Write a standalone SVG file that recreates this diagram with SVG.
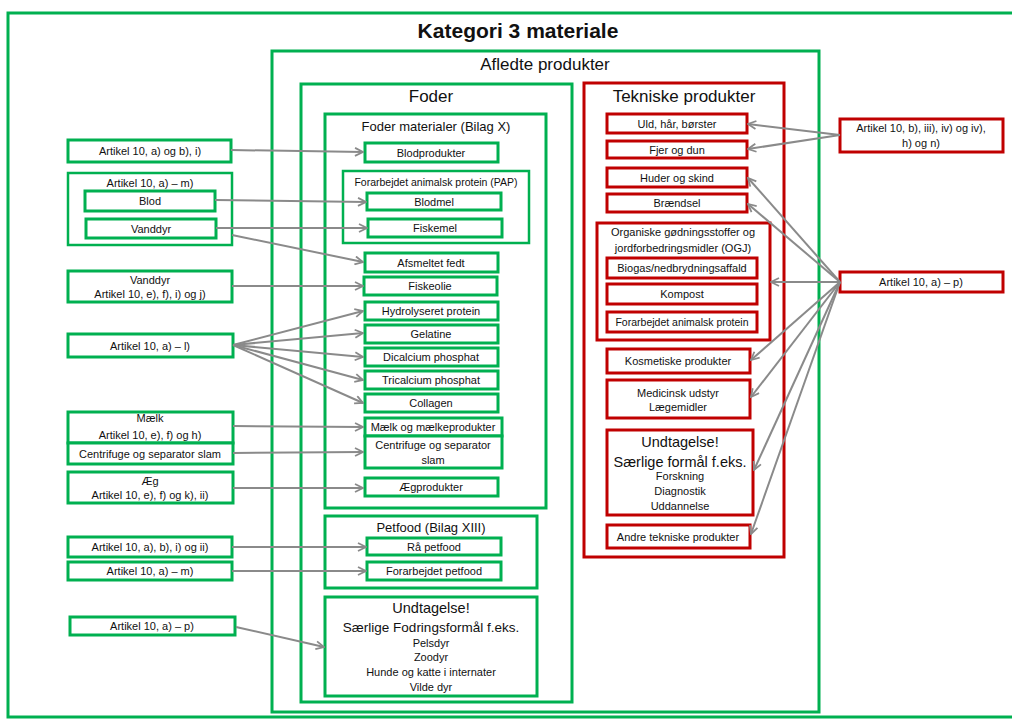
<svg xmlns="http://www.w3.org/2000/svg" width="1012" height="720" viewBox="0 0 1012 720">
<style>
.g{fill:#fff;stroke:#00b050;stroke-width:3}
.r{fill:#fff;stroke:#c00000;stroke-width:3}
text{font-family:"Liberation Sans",Arial,sans-serif;fill:#111;text-anchor:middle}
.s{font-size:11px}
.m{font-size:13px}
.h{font-size:17px}
.u{font-size:14.5px}
.c{fill:none;stroke:#8a8a8a;stroke-width:2;marker-end:url(#ah)}
</style>
<defs>
<marker id="ah" viewBox="0 0 10 10" refX="9" refY="5" markerWidth="10" markerHeight="10" markerUnits="userSpaceOnUse" orient="auto">
<path d="M1,1 L9,5 L1,9" fill="none" stroke="#8a8a8a" stroke-width="1.8"/>
</marker>
</defs>
<rect x="0" y="0" width="1012" height="720" fill="#fff"/>
<g id="kategori">
<rect class="g" x="8" y="13" width="1012" height="704"/>
<text x="518" y="38" style="font-size:21px;font-weight:bold">Kategori 3 materiale</text>
</g>
<g id="afledte">
<rect class="g" x="272" y="51" width="547" height="661"/>
<text class="h" x="545" y="70">Afledte produkter</text>
</g>
<g id="foder">
<rect class="g" x="301" y="84" width="271" height="618"/>
<text class="h" x="431" y="102">Foder</text>
</g>
<g id="fodermaterialer">
<rect class="g" x="325" y="114" width="221" height="394"/>
<text class="m" x="436" y="131">Foder materialer (Bilag X)</text>
</g>
<g id="blodprodukter"><rect class="g" x="365" y="143" width="133" height="19"/><text class="s" x="431" y="156.5">Blodprodukter</text></g>
<g id="pap"><rect class="g" x="343" y="171" width="186" height="72" style="stroke-width:2.5"/><text x="436" y="185.5" style="font-size:10.5px">Forarbejdet animalsk protein (PAP)</text></g>
<g id="blodmel"><rect class="g" x="367" y="193" width="134" height="17"/><text class="s" x="434" y="205.5">Blodmel</text></g>
<g id="fiskemel"><rect class="g" x="368" y="219" width="134" height="18"/><text class="s" x="435" y="232">Fiskemel</text></g>
<g id="afsmeltet"><rect class="g" x="365" y="253" width="133" height="19"/><text class="s" x="431" y="266.5">Afsmeltet fedt</text></g>
<g id="fiskeolie"><rect class="g" x="364" y="277" width="133" height="18"/><text class="s" x="430" y="290">Fiskeolie</text></g>
<g id="hydrolyseret"><rect class="g" x="365" y="302" width="133" height="18"/><text class="s" x="431" y="315">Hydrolyseret protein</text></g>
<g id="gelatine"><rect class="g" x="365" y="325" width="133" height="18"/><text class="s" x="431" y="338">Gelatine</text></g>
<g id="dicalcium"><rect class="g" x="365" y="348" width="133" height="18"/><text class="s" x="431" y="361">Dicalcium phosphat</text></g>
<g id="tricalcium"><rect class="g" x="365" y="371" width="133" height="18"/><text class="s" x="431" y="384">Tricalcium phosphat</text></g>
<g id="collagen"><rect class="g" x="365" y="394" width="133" height="18"/><text class="s" x="431" y="407">Collagen</text></g>
<g id="maelkprod"><rect class="g" x="365" y="418" width="137" height="18"/><text class="s" x="433" y="431">Mælk og mælkeprodukter</text></g>
<g id="centrifugeprod"><rect class="g" x="365" y="436" width="137" height="32"/><text class="s" x="433" y="449">Centrifuge og separator</text><text class="s" x="433" y="464">slam</text></g>
<g id="aegprod"><rect class="g" x="365" y="478" width="133" height="18"/><text class="s" x="431" y="491">Ægprodukter</text></g>
<g id="petfood"><rect class="g" x="325" y="516" width="212" height="72"/><text class="m" x="431" y="532">Petfood (Bilag XIII)</text></g>
<g id="raapetfood"><rect class="g" x="367" y="538" width="134" height="17"/><text class="s" x="434" y="550.5">Rå petfood</text></g>
<g id="forarbpetfood"><rect class="g" x="367" y="562" width="134" height="18"/><text class="s" x="434" y="575">Forarbejdet petfood</text></g>
<g id="undtagelsefoder"><rect class="g" x="325" y="597" width="212" height="99"/>
<text class="u" x="431" y="613">Undtagelse!</text>
<text x="431" y="632" style="font-size:13.5px">Særlige Fodringsformål f.eks.</text>
<text class="s" x="431" y="647">Pelsdyr</text>
<text class="s" x="431" y="661">Zoodyr</text>
<text class="s" x="431" y="676">Hunde og katte i internater</text>
<text class="s" x="431" y="691">Vilde dyr</text>
</g>
<g id="tekniske"><rect class="r" x="584" y="83" width="200" height="474"/><text class="h" x="684" y="102">Tekniske produkter</text></g>
<g id="uld"><rect class="r" x="607" y="114" width="140" height="19"/><text class="s" x="677" y="127.5">Uld, hår, børster</text></g>
<g id="fjer"><rect class="r" x="607" y="141" width="140" height="17"/><text class="s" x="677" y="153.5">Fjer og dun</text></g>
<g id="huder"><rect class="r" x="607" y="168" width="140" height="19"/><text class="s" x="677" y="181.5">Huder og skind</text></g>
<g id="braendsel"><rect class="r" x="607" y="194" width="140" height="18"/><text class="s" x="677" y="207">Brændsel</text></g>
<g id="ogj"><rect class="r" x="597" y="223" width="173" height="117"/><text class="s" x="683" y="236">Organiske gødningsstoffer og</text><text class="s" x="683" y="252">jordforbedringsmidler (OGJ)</text></g>
<g id="biogas"><rect class="r" x="607" y="258" width="150" height="20"/><text class="s" x="682" y="272">Biogas/nedbrydningsaffald</text></g>
<g id="kompost"><rect class="r" x="607" y="284" width="150" height="20"/><text class="s" x="682" y="298">Kompost</text></g>
<g id="forarbprotein"><rect class="r" x="607" y="312" width="150" height="20"/><text x="682" y="325.5" style="font-size:10.5px">Forarbejdet animalsk protein</text></g>
<g id="kosmetiske"><rect class="r" x="607" y="349" width="143" height="24"/><text class="s" x="678" y="365">Kosmetiske produkter</text></g>
<g id="medicinsk"><rect class="r" x="607" y="380" width="143" height="38"/><text class="s" x="678" y="396.5">Medicinsk udstyr</text><text class="s" x="678" y="411">Lægemidler</text></g>
<g id="undtagelsetek"><rect class="r" x="607" y="430" width="146" height="85"/>
<text class="u" x="680" y="447">Undtagelse!</text>
<text class="u" x="680" y="467">Særlige formål f.eks.</text>
<text class="s" x="680" y="480">Forskning</text>
<text class="s" x="680" y="495">Diagnostik</text>
<text class="s" x="680" y="510">Uddannelse</text>
</g>
<g id="andre"><rect class="r" x="607" y="525" width="143" height="23"/><text class="s" x="678" y="540.5">Andre tekniske produkter</text></g>
<g id="l1"><rect class="g" x="68" y="140" width="163" height="22"/><text class="s" x="150" y="155">Artikel 10, a) og b), i)</text></g>
<g id="l2"><rect class="g" x="68" y="173" width="164" height="72" style="stroke-width:2.5"/><text class="s" x="150" y="187">Artikel 10, a) – m)</text></g>
<g id="blod"><rect class="g" x="85" y="191" width="130" height="20"/><text class="s" x="150" y="205">Blod</text></g>
<g id="vanddyr"><rect class="g" x="86" y="219" width="130" height="19"/><text class="s" x="151" y="232.5">Vanddyr</text></g>
<g id="l3"><rect class="g" x="68" y="271" width="164" height="31"/><text class="s" x="150" y="283.5">Vanddyr</text><text class="s" x="150" y="298">Artikel 10, e), f), i) og j)</text></g>
<g id="l4"><rect class="g" x="68" y="334" width="165" height="23"/><text class="s" x="150" y="349.5">Artikel 10, a) – l)</text></g>
<g id="l5"><rect class="g" x="68" y="412" width="165" height="31"/><text class="s" x="150" y="422">Mælk</text><text class="s" x="150" y="439">Artikel 10, e), f) og h)</text></g>
<g id="l6"><rect class="g" x="68" y="443" width="165" height="21"/><text class="s" x="150" y="457.5">Centrifuge og separator slam</text></g>
<g id="l7"><rect class="g" x="68" y="472" width="165" height="31"/><text class="s" x="150" y="485">Æg</text><text class="s" x="150" y="499">Artikel 10, e), f) og k), ii)</text></g>
<g id="l8"><rect class="g" x="68" y="537" width="164" height="20"/><text class="s" x="150" y="551">Artikel 10, a), b), i) og ii)</text></g>
<g id="l9"><rect class="g" x="68" y="562" width="164" height="18"/><text class="s" x="150" y="575">Artikel 10, a) – m)</text></g>
<g id="l10"><rect class="g" x="70" y="617" width="165" height="18"/><text class="s" x="152" y="630">Artikel 10, a) – p)</text></g>
<g id="r1"><rect class="r" x="840" y="119" width="163" height="33"/><text class="s" x="921" y="132">Artikel 10, b), iii), iv) og iv),</text><text class="s" x="921" y="147">h) og n)</text></g>
<g id="r2"><rect class="r" x="840" y="272" width="163" height="20"/><text class="s" x="921" y="286">Artikel 10, a) – p)</text></g>
<g id="connectors">
<line class="c" x1="231" y1="150" x2="363" y2="152"/>
<line class="c" x1="215" y1="200" x2="366" y2="202"/>
<line class="c" x1="216" y1="228" x2="367" y2="228"/>
<line class="c" x1="232" y1="235" x2="363" y2="262"/>
<line class="c" x1="232" y1="286" x2="363" y2="286"/>
<line class="c" x1="233" y1="345" x2="363" y2="311"/>
<line class="c" x1="233" y1="345" x2="363" y2="333"/>
<line class="c" x1="233" y1="345" x2="363" y2="357"/>
<line class="c" x1="233" y1="345" x2="363" y2="380"/>
<line class="c" x1="233" y1="345" x2="363" y2="403"/>
<line class="c" x1="233" y1="426" x2="363" y2="427"/>
<line class="c" x1="233" y1="453" x2="363" y2="452"/>
<line class="c" x1="233" y1="488" x2="363" y2="488"/>
<line class="c" x1="232" y1="547" x2="366" y2="547"/>
<line class="c" x1="232" y1="571" x2="366" y2="571"/>
<line class="c" x1="236" y1="627" x2="324" y2="647"/>
<line class="c" x1="840" y1="135" x2="748" y2="124"/>
<line class="c" x1="840" y1="135" x2="748" y2="149"/>
<line class="c" x1="840" y1="282" x2="748" y2="178"/>
<line class="c" x1="840" y1="282" x2="748" y2="204"/>
<line class="c" x1="840" y1="282" x2="771" y2="282"/>
<line class="c" x1="840" y1="282" x2="751" y2="360"/>
<line class="c" x1="840" y1="282" x2="751" y2="397"/>
<line class="c" x1="840" y1="282" x2="754" y2="470"/>
<line class="c" x1="840" y1="282" x2="751" y2="534"/>
</g>
</svg>
